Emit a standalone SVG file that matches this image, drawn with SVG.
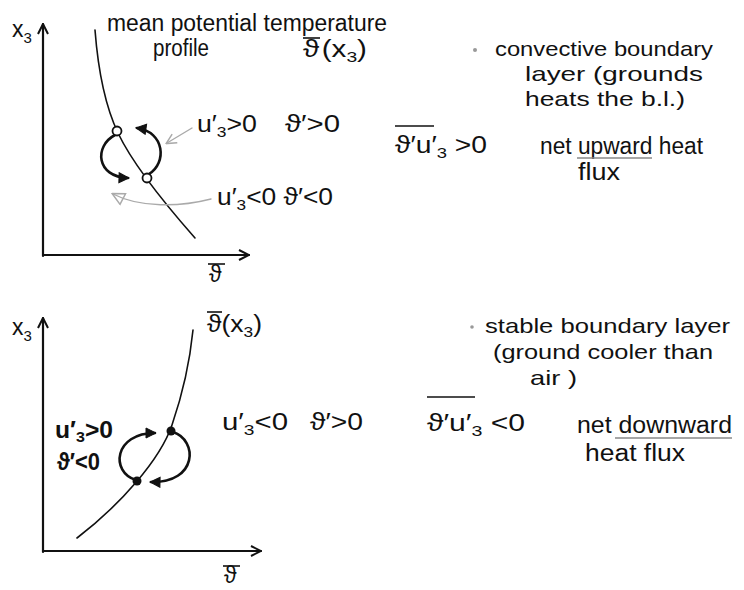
<svg xmlns="http://www.w3.org/2000/svg" width="744" height="590" viewBox="0 0 744 590">
<defs>
<style>
.ax{fill:none;stroke:#111;stroke-width:2.2;stroke-linecap:round}
.cv{fill:none;stroke:#111;stroke-width:1.6;stroke-linecap:round}
.lp{fill:none;stroke:#111;stroke-width:2.6;stroke-linecap:round}
.gr{fill:none;stroke:#aaa;stroke-width:1.4;stroke-linecap:round}
.t{font-family:"Liberation Sans","DejaVu Sans",sans-serif;font-size:23px;fill:#111}
.n{font-size:21px}
.s{font-size:15px}
.ol{stroke:#111;stroke-width:1.6}
</style>
<marker id="axh" viewBox="0 0 12 12" refX="11" refY="6" markerWidth="12" markerHeight="12" markerUnits="userSpaceOnUse" orient="auto">
<path d="M1,1 L11,6 L1,11" fill="none" stroke="#111" stroke-width="2"/>
</marker>
<marker id="lph" viewBox="0 0 12 12" refX="10" refY="6" markerWidth="12" markerHeight="12" markerUnits="userSpaceOnUse" orient="auto">
<path d="M1,1 L11,6 L1,11 Z" fill="#111" stroke="#111" stroke-width="1"/>
</marker>
<marker id="grh" viewBox="0 0 12 12" refX="10" refY="6" markerWidth="12" markerHeight="12" markerUnits="userSpaceOnUse" orient="auto">
<path d="M1,1 L11,6 L1,11" fill="none" stroke="#aaa" stroke-width="1.5"/>
</marker>
<marker id="grt" viewBox="0 0 14 14" refX="12" refY="7" markerWidth="14" markerHeight="14" markerUnits="userSpaceOnUse" orient="auto">
<path d="M1,1 L13,7 L1,13 Z" fill="none" stroke="#aaa" stroke-width="1.5"/>
</marker>
</defs>
<rect width="744" height="590" fill="#fff"/>

<!-- Top panel: convective boundary layer -->
<g id="top-axes">
<path class="ax" d="M43,256 L43,24" marker-end="url(#axh)"/>
<path class="ax" d="M43,255 L249,255" marker-end="url(#axh)"/>
<text class="t" x="12" y="37">x<tspan class="s" dy="6">3</tspan></text>
<text class="t" x="209" y="282">ϑ</text>
<line class="ol" x1="208" y1="264" x2="225" y2="264"/>
</g>
<g id="top-profile">
<path class="cv" d="M95,30 Q100,95 118,133 T195,238"/>
<text class="t" x="107" y="31" textLength="280" lengthAdjust="spacingAndGlyphs">mean potential temperature</text>
<text class="t" x="153" y="56" textLength="56" lengthAdjust="spacingAndGlyphs">profile</text>
<text class="t" x="303" y="57" textLength="64" lengthAdjust="spacingAndGlyphs">ϑ<tspan dx="2">(x</tspan><tspan class="s" dy="5">3</tspan><tspan dy="-5">)</tspan></text>
<line class="ol" x1="303" y1="38" x2="320" y2="38"/>
</g>
<g id="connectors">
<path class="lp" d="M115,135 C94,146 96,177 128,178" marker-end="url(#lph)"/>
<path class="lp" d="M149,174 C167,163 165,132 137,128" marker-end="url(#lph)"/>
<path class="gr" d="M192,128 L167,143" marker-end="url(#grh)"/>
<path class="gr" d="M211,199 C180,207 140,208 113,194" marker-end="url(#grt)"/>
<path class="lp" d="M136,480 C110,472 114,433 155,433" marker-end="url(#lph)"/>
<path class="lp" d="M173,432 C198,440 198,483 151,482" marker-end="url(#lph)"/>
</g>
<g id="top-parcels">
<circle cx="117" cy="131" r="4.5" fill="#fff" stroke="#111" stroke-width="1.8"/>
<circle cx="147" cy="178" r="4.5" fill="#fff" stroke="#111" stroke-width="1.8"/>
</g>
<g id="top-label-up">
<text class="t" x="197" y="132" textLength="60" lengthAdjust="spacingAndGlyphs">u′<tspan class="s" dy="5">3</tspan><tspan dy="-5">&gt;0</tspan></text>
<text class="t" x="285" y="132" textLength="55" lengthAdjust="spacingAndGlyphs">ϑ′&gt;0</text>
</g>
<g id="top-label-down">
<text class="t" x="217" y="205" textLength="116" lengthAdjust="spacingAndGlyphs">u′<tspan class="s" dy="5">3</tspan><tspan dy="-5">&lt;0 ϑ′&lt;0</tspan></text>
</g>
<g id="top-notes">
<circle cx="475" cy="50" r="2" fill="#999"/>
<text class="t n" x="495" y="56" textLength="218" lengthAdjust="spacingAndGlyphs">convective boundary</text>
<text class="t n" x="525" y="81" textLength="178" lengthAdjust="spacingAndGlyphs">layer (grounds</text>
<text class="t n" x="525" y="106" textLength="160" lengthAdjust="spacingAndGlyphs">heats the b.l.)</text>
</g>
<g id="top-flux">
<line class="ol" x1="395" y1="126" x2="434" y2="126"/>
<text class="t" x="395" y="153" textLength="92" lengthAdjust="spacingAndGlyphs">ϑ′u′<tspan class="s" dy="5">3</tspan><tspan dy="-5"> &gt;0</tspan></text>
<text class="t" x="540" y="154" textLength="163" lengthAdjust="spacingAndGlyphs">net upward heat</text>
<line stroke="#888" stroke-width="1.4" x1="577" y1="158" x2="652" y2="158"/>
<text class="t" x="578" y="180" textLength="42" lengthAdjust="spacingAndGlyphs">flux</text>
</g>

<!-- Bottom panel: stable boundary layer -->
<g id="bottom-axes">
<path class="ax" d="M43,552 L43,318" marker-end="url(#axh)"/>
<path class="ax" d="M43,551 L261,551" marker-end="url(#axh)"/>
<text class="t" x="12" y="335">x<tspan class="s" dy="6">3</tspan></text>
<text class="t" x="224" y="583">ϑ</text>
<line class="ol" x1="223" y1="566" x2="240" y2="566"/>
</g>
<g id="bottom-profile">
<path class="cv" d="M77,538 C120,505 160,460 172,425 S190,360 193,330"/>
<text class="t" x="207" y="332" textLength="55" lengthAdjust="spacingAndGlyphs">ϑ(x<tspan class="s" dy="5">3</tspan><tspan dy="-5">)</tspan></text>
<line class="ol" x1="207" y1="312" x2="222" y2="312"/>
</g>
<g id="bottom-parcels">
<circle cx="171" cy="431" r="4.5" fill="#111"/>
<circle cx="137" cy="481" r="4.5" fill="#111"/>
</g>
<g id="bottom-label-left">
<text class="t" x="55" y="438" textLength="58" lengthAdjust="spacingAndGlyphs" font-weight="bold">u′<tspan class="s" dy="4">3</tspan><tspan dy="-4">&gt;0</tspan></text>
<text class="t" x="57" y="470" textLength="43" lengthAdjust="spacingAndGlyphs" font-weight="bold">ϑ′&lt;0</text>
</g>
<g id="bottom-label-right">
<text class="t" x="222" y="430" textLength="66" lengthAdjust="spacingAndGlyphs">u′<tspan class="s" dy="5">3</tspan><tspan dy="-5">&lt;0</tspan></text>
<text class="t" x="310" y="430" textLength="53" lengthAdjust="spacingAndGlyphs">ϑ′&gt;0</text>
</g>
<g id="bottom-notes">
<circle cx="472" cy="327" r="1.8" fill="#999"/>
<text class="t n" x="485" y="333" textLength="245" lengthAdjust="spacingAndGlyphs">stable boundary layer</text>
<text class="t n" x="493" y="359" textLength="220" lengthAdjust="spacingAndGlyphs">(ground cooler than</text>
<text class="t n" x="530" y="385" textLength="47" lengthAdjust="spacingAndGlyphs">air )</text>
</g>
<g id="bottom-flux">
<line class="ol" x1="427" y1="397" x2="475" y2="397"/>
<text class="t" x="427" y="431" textLength="98" lengthAdjust="spacingAndGlyphs">ϑ′u′<tspan class="s" dy="5">3</tspan><tspan dy="-5"> &lt;0</tspan></text>
<text class="t" x="577" y="433" textLength="155" lengthAdjust="spacingAndGlyphs">net downward</text>
<line stroke="#888" stroke-width="1.4" x1="615" y1="438" x2="732" y2="438"/>
<text class="t" x="585" y="461" textLength="100" lengthAdjust="spacingAndGlyphs">heat flux</text>
</g>
</svg>
